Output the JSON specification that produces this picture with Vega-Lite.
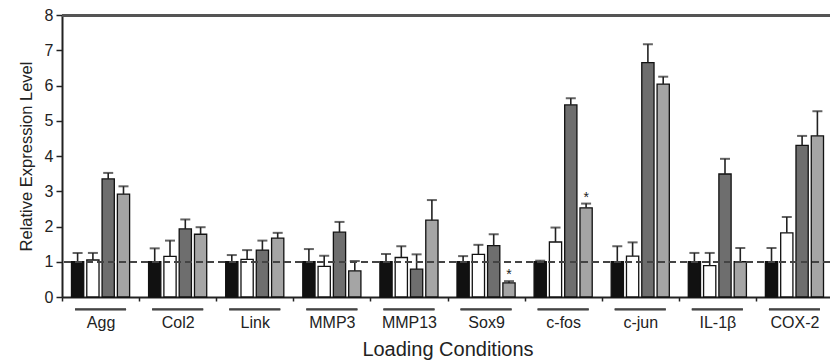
{
  "$schema": "https://vega.github.io/schema/vega-lite/v6.json",
  "width": 768,
  "height": 282,
  "autosize": {"type": "none"},
  "padding": {"left": 62, "top": 15, "right": 0, "bottom": 65},
  "background": "white",
  "config": {
    "view": {"stroke": null},
    "font": "Liberation Sans",
    "axis": {"labelFont": "Liberation Sans", "titleFont": "Liberation Sans", "titleFontWeight": "normal", "labelColor": "#222", "titleColor": "#222", "grid": false, "tickColor": "#222", "tickWidth": 1.5, "domainColor": "#222", "domainWidth": 2},
    "axisY": {"tickSize": 6, "labelFontSize": 16, "labelPadding": 3, "titleFontSize": 16.5, "titlePadding": 10, "labelOverlap": false},
    "axisX": {"labelAngle": 0, "tickBand": "extent", "tickSize": 4, "labelFontSize": 16, "labelPadding": 13, "titleFontSize": 20, "titlePadding": 9}
  },
  "data": {
    "values": [
      {"gene": "Agg", "cond": "C1", "value": 1.0, "err": 1.25, "sig": ""},
      {"gene": "Agg", "cond": "C2", "value": 1.05, "err": 1.25, "sig": ""},
      {"gene": "Agg", "cond": "C3", "value": 3.35, "err": 3.52, "sig": ""},
      {"gene": "Agg", "cond": "C4", "value": 2.92, "err": 3.14, "sig": ""},
      {"gene": "Col2", "cond": "C1", "value": 1.0, "err": 1.38, "sig": ""},
      {"gene": "Col2", "cond": "C2", "value": 1.15, "err": 1.6, "sig": ""},
      {"gene": "Col2", "cond": "C3", "value": 1.93, "err": 2.2, "sig": ""},
      {"gene": "Col2", "cond": "C4", "value": 1.78, "err": 1.98, "sig": ""},
      {"gene": "Link", "cond": "C1", "value": 1.0, "err": 1.19, "sig": ""},
      {"gene": "Link", "cond": "C2", "value": 1.07, "err": 1.33, "sig": ""},
      {"gene": "Link", "cond": "C3", "value": 1.33, "err": 1.6, "sig": ""},
      {"gene": "Link", "cond": "C4", "value": 1.67, "err": 1.82, "sig": ""},
      {"gene": "MMP3", "cond": "C1", "value": 1.0, "err": 1.36, "sig": ""},
      {"gene": "MMP3", "cond": "C2", "value": 0.87, "err": 1.17, "sig": ""},
      {"gene": "MMP3", "cond": "C3", "value": 1.84, "err": 2.13, "sig": ""},
      {"gene": "MMP3", "cond": "C4", "value": 0.74, "err": 1.02, "sig": ""},
      {"gene": "MMP13", "cond": "C1", "value": 1.0, "err": 1.22, "sig": ""},
      {"gene": "MMP13", "cond": "C2", "value": 1.12, "err": 1.44, "sig": ""},
      {"gene": "MMP13", "cond": "C3", "value": 0.79, "err": 1.21, "sig": ""},
      {"gene": "MMP13", "cond": "C4", "value": 2.18, "err": 2.75, "sig": ""},
      {"gene": "Sox9", "cond": "C1", "value": 1.0, "err": 1.16, "sig": ""},
      {"gene": "Sox9", "cond": "C2", "value": 1.21, "err": 1.48, "sig": ""},
      {"gene": "Sox9", "cond": "C3", "value": 1.46, "err": 1.78, "sig": ""},
      {"gene": "Sox9", "cond": "C4", "value": 0.4, "err": 0.45, "sig": "*"},
      {"gene": "c-fos", "cond": "C1", "value": 1.0, "err": 1.03, "sig": ""},
      {"gene": "c-fos", "cond": "C2", "value": 1.56, "err": 1.97, "sig": ""},
      {"gene": "c-fos", "cond": "C3", "value": 5.45, "err": 5.64, "sig": ""},
      {"gene": "c-fos", "cond": "C4", "value": 2.53, "err": 2.65, "sig": "*"},
      {"gene": "c-jun", "cond": "C1", "value": 1.0, "err": 1.44, "sig": ""},
      {"gene": "c-jun", "cond": "C2", "value": 1.16, "err": 1.55, "sig": ""},
      {"gene": "c-jun", "cond": "C3", "value": 6.65, "err": 7.17, "sig": ""},
      {"gene": "c-jun", "cond": "C4", "value": 6.04, "err": 6.25, "sig": ""},
      {"gene": "IL-1β", "cond": "C1", "value": 1.0, "err": 1.25, "sig": ""},
      {"gene": "IL-1β", "cond": "C2", "value": 0.89, "err": 1.25, "sig": ""},
      {"gene": "IL-1β", "cond": "C3", "value": 3.49, "err": 3.92, "sig": ""},
      {"gene": "IL-1β", "cond": "C4", "value": 1.0, "err": 1.39, "sig": ""},
      {"gene": "COX-2", "cond": "C1", "value": 1.0, "err": 1.39, "sig": ""},
      {"gene": "COX-2", "cond": "C2", "value": 1.82, "err": 2.27, "sig": ""},
      {"gene": "COX-2", "cond": "C3", "value": 4.3, "err": 4.57, "sig": ""},
      {"gene": "COX-2", "cond": "C4", "value": 4.57, "err": 5.27, "sig": ""}
    ]
  },
  "layer": [
    {
      "mark": {"type": "bar", "stroke": "#111", "strokeWidth": 1.3},
      "encoding": {
        "x": {
          "field": "gene", "type": "nominal", "sort": ["Agg", "Col2", "Link", "MMP3", "MMP13", "Sox9", "c-fos", "c-jun", "IL-1β", "COX-2"],
          "scale": {"range": [0, 771], "paddingInner": 0, "paddingOuter": 0},
          "title": "Loading Conditions"
        },
        "xOffset": {"field": "cond", "type": "nominal", "scale": {"paddingInner": 0.2, "paddingOuter": 0.62}},
        "y": {
          "field": "value", "type": "quantitative",
          "scale": {"domain": [0, 8], "nice": false},
          "title": "Relative Expression Level",
          "axis": {"tickCount": 8}
        },
        "color": {"field": "cond", "type": "nominal", "legend": null, "scale": {"domain": ["C1", "C2", "C3", "C4"], "range": ["#111111", "#ffffff", "#6e6e6e", "#a5a5a5"]}}
      }
    },
    {
      "mark": {"type": "rule", "color": "#222", "strokeWidth": 1.6},
      "encoding": {
        "x": {"field": "gene", "type": "nominal", "sort": ["Agg", "Col2", "Link", "MMP3", "MMP13", "Sox9", "c-fos", "c-jun", "IL-1β", "COX-2"], "title": "Loading Conditions"},
        "xOffset": {"field": "cond", "type": "nominal"},
        "y": {"field": "value", "type": "quantitative", "title": "Relative Expression Level", "axis": {"tickCount": 8}},
        "y2": {"field": "err"}
      }
    },
    {
      "mark": {"type": "tick", "color": "#222", "size": 10, "thickness": 2},
      "encoding": {
        "x": {"field": "gene", "type": "nominal", "sort": ["Agg", "Col2", "Link", "MMP3", "MMP13", "Sox9", "c-fos", "c-jun", "IL-1β", "COX-2"], "title": "Loading Conditions"},
        "xOffset": {"field": "cond", "type": "nominal"},
        "y": {"field": "err", "type": "quantitative", "title": "Relative Expression Level", "axis": {"tickCount": 8}}
      }
    },
    {
      "mark": {"type": "rule", "color": "#444", "strokeWidth": 1.5, "strokeDash": [7, 4]},
      "encoding": {"y": {"datum": 1, "type": "quantitative", "title": "Relative Expression Level", "axis": {"tickCount": 8}}}
    },
    {
      "mark": {"type": "rule", "color": "#555", "strokeWidth": 2},
      "encoding": {"y": {"datum": 7.99, "type": "quantitative", "title": "Relative Expression Level", "axis": {"tickCount": 8}}}
    },
    {
      "mark": {"type": "tick", "color": "#444", "size": 51, "thickness": 1.6},
      "encoding": {
        "x": {"field": "gene", "type": "nominal", "sort": ["Agg", "Col2", "Link", "MMP3", "MMP13", "Sox9", "c-fos", "c-jun", "IL-1β", "COX-2"], "title": "Loading Conditions"},
        "y": {"datum": -0.35, "type": "quantitative", "title": "Relative Expression Level", "axis": {"tickCount": 8}}
      }
    },
    {
      "transform": [{"filter": "datum.sig != ''"}],
      "mark": {"type": "text", "fontSize": 14, "baseline": "middle", "dy": -6, "color": "#222"},
      "encoding": {
        "x": {"field": "gene", "type": "nominal", "sort": ["Agg", "Col2", "Link", "MMP3", "MMP13", "Sox9", "c-fos", "c-jun", "IL-1β", "COX-2"], "title": "Loading Conditions"},
        "xOffset": {"field": "cond", "type": "nominal"},
        "y": {"field": "err", "type": "quantitative", "title": "Relative Expression Level", "axis": {"tickCount": 8}},
        "text": {"field": "sig"}
      }
    }
  ]
}
